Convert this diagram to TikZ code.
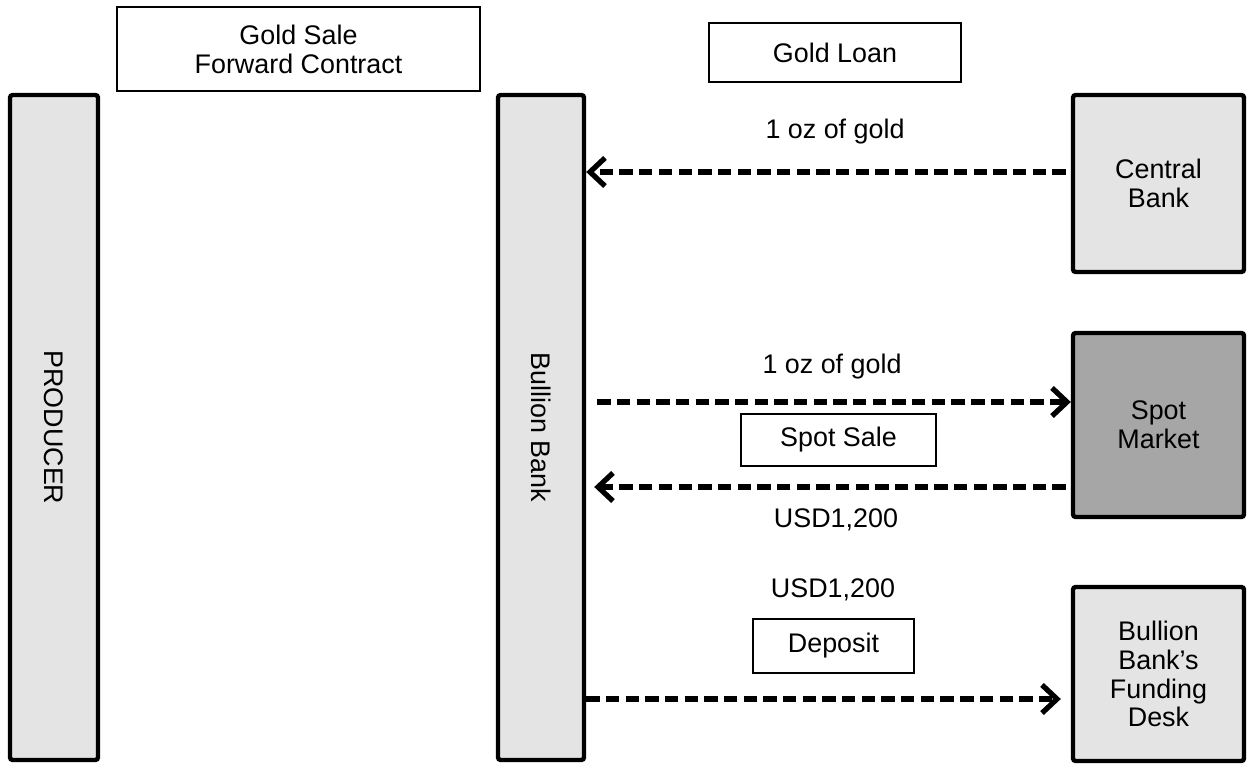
\documentclass[tikz,border=0pt]{standalone}
\usepackage{fontspec}
\setmainfont{Liberation Sans}
\usetikzlibrary{arrows.meta}
\definecolor{boxgray}{HTML}{E4E4E4}
\definecolor{spotgray}{HTML}{A6A6A6}
\tikzset{
  party/.style={draw, line width=2.5pt, rounded corners=1.5pt, fill=boxgray, align=center, inner sep=0pt},
  tag/.style={draw, line width=0.9pt, align=center, inner sep=0pt},
  flow/.style={line width=3pt, dash pattern=on 7.6pt off 3.6pt, -{Straight Barb[length=8.5pt, width=16pt]}},
}
\begin{document}
\begin{tikzpicture}
      [font=\fontsize{15.3}{16.4}\selectfont]
      \useasboundingbox (0, 0) rectangle (24.94, -15.28);
      \node[party, minimum width=1.76cm, minimum height=13.3cm,
            label={[rotate=-90]center:PRODUCER}](producer) at (1.08, -8.55) {};
      \node[party, minimum width=1.72cm, minimum height=13.3cm,
            label={[rotate=-90]center:Bullion Bank}](bank) at (10.82, -8.55) {};
      \node[party, minimum width=3.42cm, minimum height=3.54cm](cbank) at (23.17, -3.67) {Central\\Bank};
      \node[party, fill=spotgray, minimum width=3.42cm, minimum height=3.68cm](spot) at (23.17, -8.5) {Spot\\Market};
      \node[party, minimum width=3.42cm, minimum height=3.48cm](desk) at (23.17, -13.48) {Bullion\\Bank's\\Funding\\Desk};
      \node[tag, minimum width=7.26cm, minimum height=1.68cm](salebox) at (5.97, -0.98) {Gold Sale\\Forward Contract};
      \node[tag, minimum width=5.04cm, minimum height=1.18cm](loanbox) at (16.7, -1.05) {Gold Loan};
      \node[tag, minimum width=3.9cm, minimum height=1.04cm](spotsale) at (16.77, -8.8) {Spot Sale};
      \node[tag, minimum width=3.22cm, minimum height=1.08cm](deposit) at (16.67, -12.92) {Deposit};
      \node(gold1) at (16.7, -2.64) {1 oz of gold};
      \node(gold2) at (16.64, -7.34) {1 oz of gold};
      \node(usd1) at (16.72, -10.4) {USD1,200};
      \node(usd2) at (16.66, -11.8) {USD1,200};
      \draw[flow, shorten <=0.1cm]([yshift=0.23cm]cbank.west) -- ([yshift=0.23cm]cbank.west -| bank.east);
      \draw[flow, shorten <=0.22cm]([yshift=0.46cm]spot.west -| bank.east) -- ([yshift=0.46cm]spot.west);
      \draw[flow, shorten <=0.1cm, shorten >=0.16cm]([yshift=-1.24cm]spot.west) -- ([yshift=-1.24cm]spot.west -| bank.east);
      \draw[flow, shorten >=0.2cm]([yshift=-0.5cm]desk.west -| bank.east) -- ([yshift=-0.5cm]desk.west);
  \end{tikzpicture}
\end{document}
